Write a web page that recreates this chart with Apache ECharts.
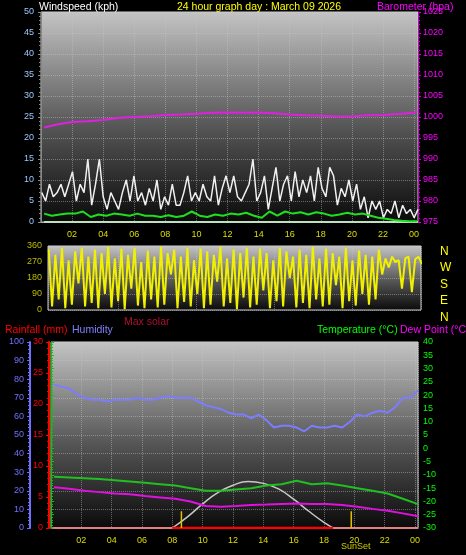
<!DOCTYPE html>
<html><head><meta charset="utf-8">
<script src="https://cdn.jsdelivr.net/npm/echarts@6/dist/echarts.min.js"></script>
<style>html,body{margin:0;background:#000}#c{width:466px;height:555px}</style>
</head><body><div id="c"></div>
<script>
// values, hours 0..24
const baroHours = [0.2,1,2,3,4,5,6,7,8,9,10,11,12,13,14,15,16,17,18,19,20,21,22,23,24,24.2];
const baro = [997.5,998.2,998.8,999.0,999.3,999.8,1000.0,1000.2,1000.5,1000.6,1000.8,1001.0,1001.1,1001.0,1001.1,1000.9,1000.6,1000.4,1000.3,1000.1,1000.1,1000.4,1000.5,1000.7,1001.0,1001.5];
// gust, every 10 min
const gust = [7,5,9,6,7,9,6,9,12,5,9,7,15,4,9,15,6,3,7,5,3,7,10,5,11,5,7,4,8,5,10,3,6,4,9,4,4,7,11,5,7,5,9,6,5,11,4,8,11,7,11,6,5,7,9,15,5,7,11,3,8,13,5,9,11,5,12,6,10,7,11,5,13,8,6,13,11,4,8,6,10,5,9,3,6,1,5,3,5,1,3,2,5,1,4,2,3,1,3];
// average wind, every 30 min
const windAvg = [2,1.5,1.8,2,2,2.5,1.2,1.8,1.5,2,1.8,1.5,2,1.5,1.5,1.2,1.6,1.2,1.5,2.5,1.5,1.2,1.8,1.5,2,1.8,2.2,1.5,1,2.5,1.5,2.5,2,2.3,1.8,2.3,2,1.5,1.8,2.2,1.8,2,1.5,1,0.8,0.5,0.3,0.2,0.2];
// wind direction, evenly spaced over the day
const windDir = [340,20,310,60,350,10,280,30,330,150,350,20,300,40,340,10,320,90,355,15,
  290,50,345,5,310,120,350,25,270,10,335,60,300,15,355,30,320,200,340,10,
  300,45,350,20,280,90,345,10,330,30,310,160,355,20,290,40,340,5,320,70,
  350,15,300,30,345,110,320,10,280,50,350,20,330,180,300,15,340,40,310,10,
  355,60,290,20,345,30,320,140,300,10,350,50,280,25,335,90,310,30,300,60,
  340,200,290,240,300,270,280,120,290,300,100,285,300,260];
const halfHours = Array.from({length:49},(_, i)=>i*0.5);
const humidity = [77,76,75,72,70,69,69,68,69,69,69,70,69,69,70,71,70,70,70,68,66,65,64,62,61,61,59,61,58,54,55,55,54,52,55,54,54,55,54,57,61,60,62,63,62,65,70,70,74];
const hours = Array.from({length:25},(_, i)=>i);
const temp = [-10.7,-11,-11.3,-11.6,-12,-12.5,-13,-13.5,-14,-15,-16,-16,-15.5,-15,-14,-13.5,-12.2,-13.5,-13.2,-14,-15,-16,-17,-19,-21];
const dew = [-14.7,-15.2,-16,-16.5,-17,-17.3,-18,-18.5,-19,-20,-21.7,-22,-21.7,-21.3,-21.2,-21,-20.8,-21,-21,-21.3,-22,-22.8,-23.5,-24.5,-25.6];
const solarHours = [8,9,10,11,12,13,14,15,16,17,18,18.6];
const solar = [0,6,13,19,23,25,24,21,15.5,9,3,0];
const sunTimes = [8.6,19.8];

const spread = (arr, span)=>arr.map((v,i)=>[i*span/(arr.length-1), v]);
const pair = (xs, ys)=>xs.map((x,i)=>[x, ys[i]]);
const F = 'Liberation Sans';
const bg = {type:'linear',x:0,y:0,x2:0,y2:1,colorStops:[{offset:0,color:'#c4c4c4'},{offset:0.55,color:'#555'},{offset:1,color:'#0a0a0a'}]};
const split = {show:true,lineStyle:{color:'rgba(200,200,200,0.45)',type:'dotted'}};
const hourLbl = v => v===0 ? '' : String(v%24).padStart(2,'0');
const tt = (text,left,top,color)=>({text,left,top,textStyle:{color,fontSize:10.5,fontWeight:'normal',fontFamily:F}});

const chart = echarts.init(document.getElementById('c'));
chart.setOption({
  backgroundColor:'#000',
  animation:false,
  textStyle:{fontFamily:F},
  title:[
    tt('Windspeed (kph)',34,-3,'#fff'),
    tt('24 hour graph day : March 09 2026',172,-3,'#ff0'),
    tt('Barometer (hpa)',372,-3,'#f0f'),
    tt('Max solar',119,312,'#b01030'),
    tt('Rainfall (mm)',0,320,'#f00'),
    tt('Humidity',67,320,'#8080ff'),
    tt('Temperature (°C)',312,320,'#0f0'),
    tt('Dew Point (°C)',395,320,'#f0f'),
    {text:'N\nW\nS\nE\nN',left:435,top:238,textStyle:{color:'#ff0',fontSize:12,fontWeight:'normal',lineHeight:16.5}},
    {text:'SunSet',left:336,top:537,textStyle:{color:'#cc0',fontSize:9,fontWeight:'normal'}}
  ],
  grid:[
    {left:41,right:48,top:12,height:210,show:true,backgroundColor:bg,borderColor:'#ccc'},
    {left:48,right:45,top:246,height:64,show:true,backgroundColor:bg,borderColor:'#ccc'},
    {left:51,right:48,top:342,height:186,show:true,backgroundColor:bg,borderColor:'#ccc'}
  ],
  xAxis:[
    {gridIndex:0,type:'value',min:0,max:24.25,interval:2,splitLine:split,axisLine:{lineStyle:{color:'#aaa'}},axisTick:{show:false},
     axisLabel:{color:'#dd0',fontSize:9,showMaxLabel:false,margin:8,formatter:hourLbl}},
    {gridIndex:1,type:'value',min:0.45,max:24.45,splitLine:split,axisLine:{show:false},axisTick:{show:false},axisLabel:{show:false}},
    {gridIndex:2,type:'value',min:0,max:24.2,interval:2,splitLine:split,axisLine:{lineStyle:{color:'#aaa'}},axisTick:{show:false},
     axisLabel:{color:'#dd0',fontSize:9,showMaxLabel:false,margin:8,formatter:hourLbl}}
  ],
  yAxis:[
    {gridIndex:0,position:'left',min:0,max:50,interval:5,splitLine:split,axisLine:{show:true,lineStyle:{color:'#888'}},
     axisTick:{show:true,length:3,lineStyle:{color:'#888'}},minorTick:{show:true,splitNumber:5,length:2},
     axisLabel:{color:'#9cc8ff',fontSize:9,margin:7}},
    {gridIndex:0,position:'right',min:975,max:1025,interval:5,splitLine:{show:false},axisLine:{show:true,lineStyle:{color:'#c0c'}},
     axisTick:{show:true,length:3},minorTick:{show:true,splitNumber:5,length:2},axisLabel:{color:'#f0f',fontSize:9,margin:5,formatter:v=>String(v)}},
    {gridIndex:1,position:'left',min:0,max:360,interval:90,splitLine:split,axisLine:{show:false},axisTick:{show:false},
     axisLabel:{color:'#bb0',fontSize:9,margin:6}},
    {gridIndex:2,position:'left',min:0,max:100,interval:10,offset:21,splitLine:split,axisLine:{show:true,onZero:false,lineStyle:{color:'#7070ff',width:2}},
     axisTick:{show:true,length:3},minorTick:{show:true,splitNumber:5,length:2},axisLabel:{color:'#7070ff',fontSize:9,margin:6}},
    {gridIndex:2,position:'left',min:0,max:30,interval:5,offset:2,splitLine:{show:false},axisLine:{show:true,onZero:false,lineStyle:{color:'#f00',width:2}},
     axisTick:{show:true,length:3},minorTick:{show:true,splitNumber:5,length:2},axisLabel:{color:'#f00',fontSize:9,margin:6}},
    {gridIndex:2,position:'right',min:-30,max:40,interval:5,splitLine:{show:false},axisLine:{show:true,lineStyle:{color:'#0c0'}},
     axisTick:{show:true,length:3},minorTick:{show:true,splitNumber:5,length:2},axisLabel:{color:'#0f0',fontSize:9,margin:5}}
  ],
  series:[
    {type:'line',xAxisIndex:0,yAxisIndex:0,data:[[0.2,0],[24.25,0]],symbol:'none',lineStyle:{color:'#bde0bd',width:2}},
    {type:'line',xAxisIndex:0,yAxisIndex:0,data:spread(gust,24.2).map(p=>[p[0]+0.05,p[1]]),symbol:'none',lineStyle:{color:'#f0f0f0',width:1.5}},
    {type:'line',xAxisIndex:0,yAxisIndex:0,data:spread(windAvg,24).map(p=>[p[0]+0.2,p[1]]),symbol:'none',lineStyle:{color:'#1ee01e',width:2}},
    {type:'line',xAxisIndex:0,yAxisIndex:1,data:pair(baroHours,baro),symbol:'none',lineStyle:{color:'#e020e0',width:2}},
    {type:'line',xAxisIndex:1,yAxisIndex:2,data:spread(windDir,24).map(p=>[p[0]+0.5,p[1]]),symbol:'none',lineStyle:{color:'#f0f000',width:2}},
    {type:'line',xAxisIndex:2,yAxisIndex:3,data:pair(halfHours,humidity).map(p=>[p[0]+0.2,p[1]]),symbol:'none',lineStyle:{color:'#7c7cff',width:2}},
    {type:'line',xAxisIndex:2,yAxisIndex:3,data:pair(solarHours,solar),symbol:'none',smooth:true,lineStyle:{color:'#c8c8c8',width:1.5}},
    {type:'line',xAxisIndex:2,yAxisIndex:5,data:pair(hours,temp).map(p=>[p[0]+0.2,p[1]]),symbol:'none',lineStyle:{color:'#20c020',width:2}},
    {type:'line',xAxisIndex:2,yAxisIndex:5,data:pair(hours,dew).map(p=>[p[0]+0.2,p[1]]),symbol:'none',lineStyle:{color:'#e010e0',width:2}},
    {type:'line',xAxisIndex:2,yAxisIndex:4,data:[[0.1,0],[24.2,0]],symbol:'none',lineStyle:{color:'#e08080',width:2}},
    {type:'line',xAxisIndex:2,yAxisIndex:4,data:[[solarHours[0],0],[solarHours[solarHours.length-1],0]],symbol:'none',lineStyle:{color:'#f00',width:2.5}},
    ...sunTimes.map(t=>({type:'line',xAxisIndex:2,yAxisIndex:3,data:[[t,0],[t,9]],symbol:'none',lineStyle:{color:'#e0c000',width:1.5}}))
  ]
});
</script></body></html>
